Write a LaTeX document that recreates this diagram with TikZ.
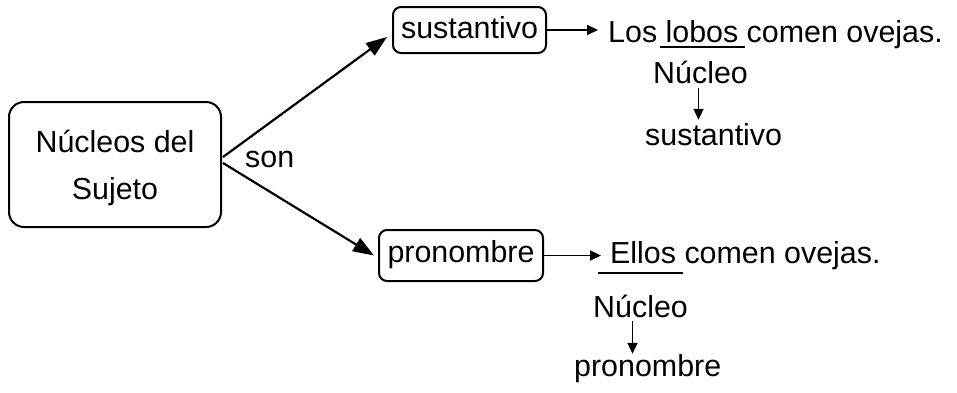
\documentclass[tikz,border=0pt]{standalone}
\usepackage{fontspec}
\setmainfont{Liberation Sans}
\usetikzlibrary{arrows.meta,calc}
\begin{document}
\begin{tikzpicture}[x=1pt,y=-1pt,
  font=\fontsize{30.4}{47}\selectfont,
  box/.style={draw, line width=2pt, rounded corners=8pt, inner sep=0pt},
  txt/.style={inner sep=0pt, anchor=base west},
  bigarrow/.style={line width=2.2pt, -{Triangle[length=21pt,width=15pt]}},
  smallarrow/.style={line width=1.8pt, -{Triangle[length=11pt,width=10pt]}},
  uline/.style={line width=2pt}]
\useasboundingbox (0,0) rectangle (957,392);
\node[box, rounded corners=15pt, minimum width=212pt, minimum height=125pt,
      align=center, text height=69pt, text depth=0pt] (main) at (115,164.5) {Núcleos del\\Sujeto};
\node[box, minimum width=153pt, minimum height=46pt, text height=16pt, text depth=0pt] (sus) at (469.5,30) {sustantivo};
\node[box, minimum width=164pt, minimum height=51pt, text height=13pt, text depth=0pt] (pro) at (461,255.5) {pronombre};
\node[txt] (son) at (245,167) {son};
\node[txt] (los) at (608,42) {Los lobos comen ovejas.};
\node[txt] (nuc1) at (653,83) {Núcleo};
\node[txt] (sus2) at (645,145) {sustantivo};
\node[txt] (ellos) at (610,263) {Ellos comen ovejas.};
\node[txt] (nuc2) at (593,317) {Núcleo};
\node[txt] (pro2) at (574,376) {pronombre};
\draw[uline] (660,47) -- (745,47);
\draw[uline] (598,273) -- (683,273);
\draw[bigarrow] ($(main.east)+(1,-7.5)$) -- ($(sus.west)+(-5,7)$);
\draw[bigarrow] ($(main.east)+(1,-1.5)$) -- ($(pro.west)+(-4,0)$);
\draw[smallarrow] (sus.east) -- ($(los.west |- sus.east)+(-10,0)$);
\draw[smallarrow] (pro.east) -- ($(ellos.west |- pro.east)+(-9,0)$);
\draw[smallarrow] ($(nuc1.south)+(-2,4)$) -- ($(nuc1.south |- sus2.north)+(-2,-3)$);
\draw[smallarrow] ($(nuc2.south)+(-8,3)$) -- ($(nuc2.south |- pro2.north)+(-8,0)$);
\end{tikzpicture}
\end{document}
